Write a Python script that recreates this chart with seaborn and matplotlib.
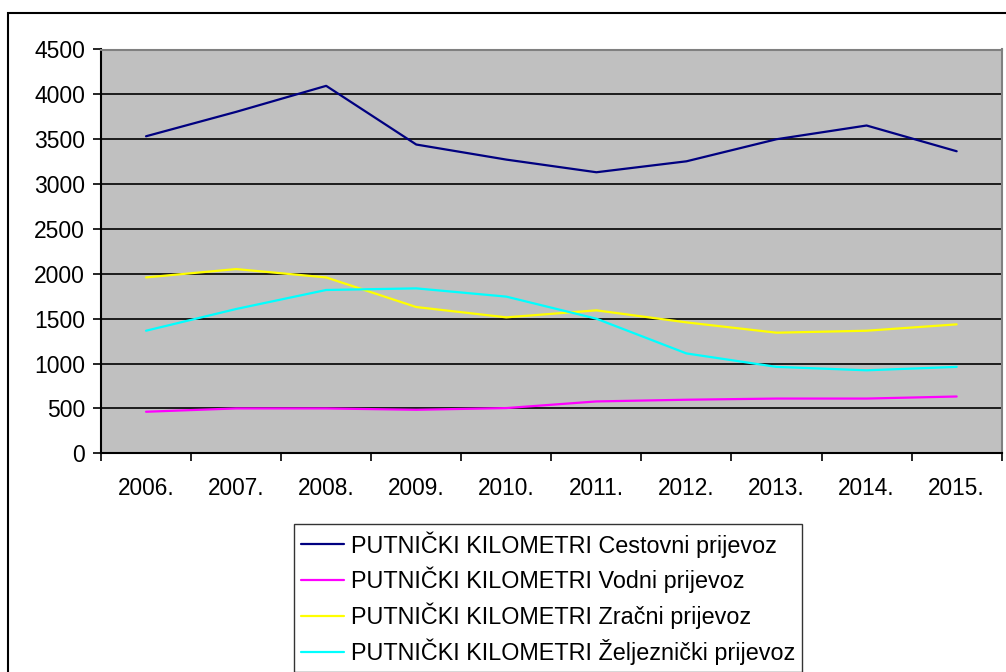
import numpy as np
import pandas as pd
import matplotlib
matplotlib.use("Agg")
import matplotlib.pyplot as plt
from matplotlib.patches import Rectangle
import seaborn as sns

years = ["2006.", "2007.", "2008.", "2009.", "2010.", "2011.", "2012.", "2013.", "2014.", "2015."]
cestovni = [3533, 3805, 4095, 3441, 3273, 3132, 3254, 3500, 3653, 3366]
vodni = [463, 500, 500, 485, 504, 578, 597, 610, 610, 633]
zracni = [1960, 2053, 1960, 1630, 1515, 1593, 1459, 1344, 1366, 1437]
zeljeznicki = [1366, 1608, 1820, 1838, 1746, 1500, 1113, 963, 925, 963]
series_names = [
    "PUTNIČKI KILOMETRI Cestovni prijevoz",
    "PUTNIČKI KILOMETRI Vodni prijevoz",
    "PUTNIČKI KILOMETRI Zračni prijevoz",
    "PUTNIČKI KILOMETRI Željeznički prijevoz",
]
colors = ["#000080", "#FF00FF", "#FFFF00", "#00FFFF"]
yticks = [0, 500, 1000, 1500, 2000, 2500, 3000, 3500, 4000, 4500]

sns.set_theme(style="white")
plt.rcParams["font.family"] = ["Liberation Sans", "DejaVu Sans"]
plt.rcParams["text.color"] = "black"
plt.rcParams["xtick.color"] = "black"
plt.rcParams["ytick.color"] = "black"
plt.rcParams["xtick.labelcolor"] = "black"
plt.rcParams["ytick.labelcolor"] = "black"

rows = []
for name, vals in zip(series_names, [cestovni, vodni, zracni, zeljeznicki]):
    for i, v in enumerate(vals):
        rows.append({"pos": i, "value": v, "series": name})
df = pd.DataFrame(rows)

fig = plt.figure(figsize=(10.06, 6.72), dpi=100)
W, H = 1006, 672
ax = fig.add_axes([101 / W, 1 - 453.3 / H, (1001.7 - 101) / W, (453.3 - 49.5) / H])
ax.set_facecolor("#C0C0C0")

sns.lineplot(data=df, x="pos", y="value", hue="series", hue_order=series_names,
             palette=dict(zip(series_names, colors)), linewidth=1.6, ax=ax,
             legend=False, zorder=3)

n = len(years)
ax.set_xlim(-0.5, n - 0.5)
ax.set_ylim(0, 4500)
ax.set_yticks(yticks)
ax.set_yticklabels([str(t) for t in yticks])
ax.yaxis.grid(True, color="black", linewidth=1.2)
ax.xaxis.grid(False)
ax.set_axisbelow(True)

ax.set_xticks(np.arange(n + 1) - 0.5)
ax.set_xticklabels([])
ax.set_xticks(np.arange(n), minor=True)
ax.set_xticklabels(years, minor=True)
ax.tick_params(axis="x", which="major", direction="out", length=5.5, width=1.2,
               color="black", bottom=True)
ax.tick_params(axis="x", which="minor", length=0, pad=17, labelsize=16.3, bottom=True,
               labelcolor="black")
ax.tick_params(axis="y", which="major", direction="out", length=5.5, width=1.2,
               color="black", left=True, labelsize=16.5, pad=6, labelcolor="black")
ax.set_xlabel("")
ax.set_ylabel("")

for side in ["left", "bottom"]:
    ax.spines[side].set_color("black")
    ax.spines[side].set_linewidth(1.5)
for side in ["right", "top"]:
    ax.spines[side].set_visible(True)
    ax.spines[side].set_color("#808080")
    ax.spines[side].set_linewidth(1.5)

# outer chart frame
fig.patches.append(Rectangle((8 / W, -0.1), 1.2, 1 - 13 / H + 0.1, transform=fig.transFigure,
                             fill=False, edgecolor="black", linewidth=1.5, zorder=0))

handles = [plt.Line2D([], [], color=c, linewidth=1.6) for c in colors]
leg = fig.legend(handles, series_names, loc="upper left",
                 bbox_to_anchor=(294 / W, 1 - 524 / H), bbox_transform=fig.transFigure,
                 fontsize=16.8, frameon=True, fancybox=False, shadow=False,
                 handlelength=1.85, handletextpad=0.28, labelspacing=0.4,
                 borderpad=0.3, borderaxespad=0)
for t in leg.get_texts():
    t.set_color("black")
leg.get_frame().set_edgecolor("black")
leg.get_frame().set_linewidth(1.0)
leg.get_frame().set_facecolor("white")

fig.savefig("out.png", dpi=100)
